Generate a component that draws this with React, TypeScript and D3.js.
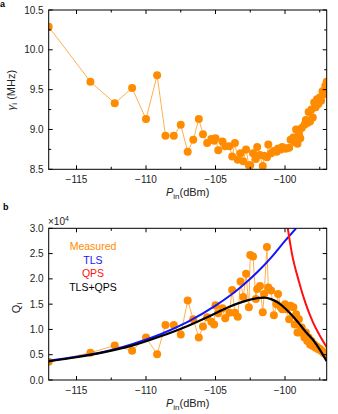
import React from "react";
import * as d3 from "d3";

// measured input powers (dBm), shared by both panels
const pin = [
  -117, -114, -112.25, -111, -110, -109.2, -108.6, -108, -107.5, -107, -106.6, -106.2,
  -105.9, -105.6, -105.3, -105.1, -105.0, -104.8, -104.5, -104.3, -104.0, -103.8, -103.6,
  -103.4, -103.2, -103.0, -102.8, -102.6, -102.5, -102.3, -102.1, -102.0, -101.8, -101.6,
  -101.5, -101.3, -101.2, -101.0, -100.8, -100.6, -100.5, -100.3, -100.2, -100.0, -99.9,
  -99.7, -99.6, -99.4, -99.3, -99.2, -99.1, -99.0, -98.9, -98.8, -98.6, -98.5, -98.4,
  -98.3, -98.2, -98.1, -98.0, -97.9, -97.8, -97.7, -97.6, -97.5, -97.4, -97.3, -97.2,
  -97.1, -97.0,
];

// panel a: gamma_i (MHz)
const gammaI = [
  10.29, 9.6, 9.33, 9.52, 9.13, 9.68, 8.92, 8.92, 9.06, 8.72, 8.87, 9.13,
  8.94, 8.83, 8.88, 8.86, 8.89, 8.74, 8.85, 8.79, 8.79, 8.66, 8.83,
  8.62, 8.7, 8.6, 8.75, 8.55, 8.55, 8.7, 8.63, 8.78, 8.68, 8.54,
  8.67, 8.65, 8.81, 8.7, 8.73, 8.72, 8.76, 8.75, 8.78, 8.76, 8.76,
  8.77, 8.87, 8.9, 8.84, 9.0, 8.82, 8.95, 8.89, 9.02, 9.06, 9.12, 9.08,
  9.22, 9.1, 9.25, 9.15, 9.34, 9.28, 9.38, 9.32, 9.4, 9.36, 9.48, 9.44,
  9.55, 9.6,
];

// panel b: Q_i (x10^4)
const qI = [
  0.36, 0.54, 0.68, 0.58, 0.84, 0.51, 1.09, 1.09, 0.9, 1.57, 1.2, 0.84,
  1.06, 1.24, 1.15, 1.1, 1.48, 1.32, 1.42, 1.22, 1.33, 1.78, 1.33,
  1.25, 1.95, 1.64, 2.1, 1.44, 2.47, 2.44, 1.6, 1.8, 1.86, 1.34,
  1.7, 2.63, 1.83, 1.77, 1.28, 1.5, 1.7, 1.44, 1.4, 1.5, 1.4,
  1.2, 1.47, 1.44, 1.1, 1.3, 0.94, 1.2, 0.94, 1.04, 0.84, 0.94, 0.77,
  0.84, 0.7, 0.77, 0.67, 0.7, 0.64, 0.66, 0.61, 0.62, 0.58, 0.57, 0.53,
  0.52, 0.5,
];

// fit curves
const tlsX = [-117, -115, -113, -111, -109, -107, -105, -104, -103, -102, -101, -100, -99.2];
const tlsY = [0.38, 0.46, 0.56, 0.71, 0.9, 1.15, 1.47, 1.66, 1.88, 2.13, 2.42, 2.75, 3.0];
const qpsX = [-99.8, -99.5, -99, -98.5, -98, -97.5, -97];
const qpsY = [3.0, 2.5, 1.95, 1.5, 1.15, 0.88, 0.65];
const bothX = [-117, -115, -113, -111, -109, -107, -105, -104, -103, -102, -101.5, -101, -100.5, -100, -99.5, -99, -98.5, -98, -97.5, -97];
const bothY = [0.37, 0.45, 0.55, 0.68, 0.86, 1.07, 1.32, 1.45, 1.55, 1.62, 1.63, 1.6, 1.53, 1.42, 1.28, 1.12, 0.95, 0.8, 0.6, 0.37];

const xTicks = [-115, -110, -105, -100];
const xMinor = [-112.5, -107.5, -102.5, -97.5];
const gammaTicks = [8.5, 9.0, 9.5, 10.0, 10.5];
const gammaMinor = [8.75, 9.25, 9.75, 10.25];
const qTicks = [0, 0.5, 1.0, 1.5, 2.0, 2.5, 3.0];

const legend = [
  { label: "Measured", color: "#ff8c00" },
  { label: "TLS", color: "#1414ff" },
  { label: "QPS", color: "#ff1010" },
  { label: "TLS+QPS", color: "#000000" },
];

const FONT = "'Liberation Sans', Arial, sans-serif";
const ORANGE = "#ff8c00";
const X0 = 48.7;
const X1 = 326.7;

function Frame({ x, y, yTicks, yMinor, fmt }) {
  const [b, t] = y.range();
  return (
    <g fontFamily={FONT} fontSize={10}>
      <rect x={X0} y={t} width={X1 - X0} height={b - t} fill="none" stroke="#000" strokeWidth={1} />
      {xTicks.map((v) => (
        <g key={v}>
          <line x1={x(v)} x2={x(v)} y1={b} y2={b - 4} stroke="#000" />
          <line x1={x(v)} x2={x(v)} y1={t} y2={t + 4} stroke="#000" />
          <text x={x(v)} y={b + 13.5} textAnchor="middle" fill="#222">{"\u2212" + Math.abs(v)}</text>
        </g>
      ))}
      {xMinor.map((v) => (
        <g key={v}>
          <line x1={x(v)} x2={x(v)} y1={b} y2={b - 2.5} stroke="#000" />
          <line x1={x(v)} x2={x(v)} y1={t} y2={t + 2.5} stroke="#000" />
        </g>
      ))}
      {yTicks.map((v) => (
        <g key={v}>
          <line x1={X0} x2={X0 + 4} y1={y(v)} y2={y(v)} stroke="#000" />
          <line x1={X1} x2={X1 - 4} y1={y(v)} y2={y(v)} stroke="#000" />
          <text x={X0 - 5} y={y(v) + 3.6} textAnchor="end" fill="#222">{fmt(v)}</text>
        </g>
      ))}
      {yMinor.map((v) => (
        <g key={v}>
          <line x1={X0} x2={X0 + 2.5} y1={y(v)} y2={y(v)} stroke="#000" />
          <line x1={X1} x2={X1 - 2.5} y1={y(v)} y2={y(v)} stroke="#000" />
        </g>
      ))}
      <text x={(X0 + X1) / 2} y={b + 27} textAnchor="middle" fontSize={11} fill="#222">
        <tspan fontStyle="italic">P</tspan>
        <tspan fontSize={8} dy={3}>in</tspan>
        <tspan dy={-3}>(dBm)</tspan>
      </text>
    </g>
  );
}

export default function App() {
  const x = d3.scaleLinear().domain([-117, -97]).range([X0, X1]);
  const ya = d3.scaleLinear().domain([8.5, 10.5]).range([169.3, 10]);
  const yb = d3.scaleLinear().domain([0, 3]).range([380, 228.3]);

  const pts = pin.map((p, i) => ({ p, g: gammaI[i], q: qI[i] }));
  const lineA = d3.line<any>().x((d) => x(d.p)).y((d) => ya(d.g));
  const lineB = d3.line<any>().x((d) => x(d.p)).y((d) => yb(d.q));
  const fit = d3.line<number[]>().x((d) => x(d[0])).y((d) => yb(d[1])).curve(d3.curveMonotoneX);
  const zip = (xs: number[], ys: number[]) => xs.map((v, i) => [v, ys[i]]);

  return (
    <svg width={338} height={414} style={{ position: "absolute", left: 0, top: 0, background: "#fff" }}>
      <defs>
        <clipPath id="clipA">
          <rect x={X0} y={10} width={X1 - X0} height={159.3} />
        </clipPath>
        <clipPath id="clipB">
          <rect x={X0} y={228.3} width={X1 - X0} height={151.7} />
        </clipPath>
      </defs>
      <text x={0} y={7} fontFamily={FONT} fontWeight="bold" fontSize={9}>a</text>
      <text x={3} y={210} fontFamily={FONT} fontWeight="bold" fontSize={9}>b</text>

      {/* panel a */}
      <g clipPath="url(#clipA)">
        <path d={lineA(pts) ?? ""} fill="none" stroke="#ffb050" strokeWidth={1} />
        {pts.map((d, i) => (
          <circle key={i} cx={x(d.p)} cy={ya(d.g)} r={4} fill={ORANGE} />
        ))}
      </g>
      <Frame x={x} y={ya} yTicks={gammaTicks} yMinor={gammaMinor} fmt={(v) => v.toFixed(1)} />
      <text transform="translate(15,90) rotate(-90)" textAnchor="middle" fontFamily={FONT} fontSize={11} fill="#222">
        <tspan fontStyle="italic">γ</tspan>
        <tspan fontSize={8} dy={2}>i</tspan>
        <tspan dy={-2}> (MHz)</tspan>
      </text>

      {/* panel b */}
      <g clipPath="url(#clipB)">
        <path d={lineB(pts) ?? ""} fill="none" stroke="#ffb050" strokeWidth={1} />
        {pts.map((d, i) => (
          <circle key={i} cx={x(d.p)} cy={yb(d.q)} r={4} fill={ORANGE} />
        ))}
        <path d={fit(zip(tlsX, tlsY)) ?? ""} fill="none" stroke="#1414ff" strokeWidth={2} />
        <path d={fit(zip(qpsX, qpsY)) ?? ""} fill="none" stroke="#ff1010" strokeWidth={2} />
        <path d={fit(zip(bothX, bothY)) ?? ""} fill="none" stroke="#000" strokeWidth={2.2} />
      </g>
      <Frame x={x} y={yb} yTicks={qTicks} yMinor={[]} fmt={(v) => v.toFixed(1)} />
      <text x={48} y={225} fontFamily={FONT} fontSize={10} fill="#222">
        ×10<tspan fontSize={7} dy={-4}>4</tspan>
      </text>
      <text transform="translate(20,308) rotate(-90)" textAnchor="middle" fontFamily={FONT} fontSize={11} fill="#222">
        Q<tspan fontSize={8} dy={2}>i</tspan>
      </text>
      {legend.map((l, i) => (
        <text key={l.label} x={93} y={250 + i * 13.7} textAnchor="middle" fontFamily={FONT} fontSize={10.5} fill={l.color}>
          {l.label}
        </text>
      ))}
    </svg>
  );
}
